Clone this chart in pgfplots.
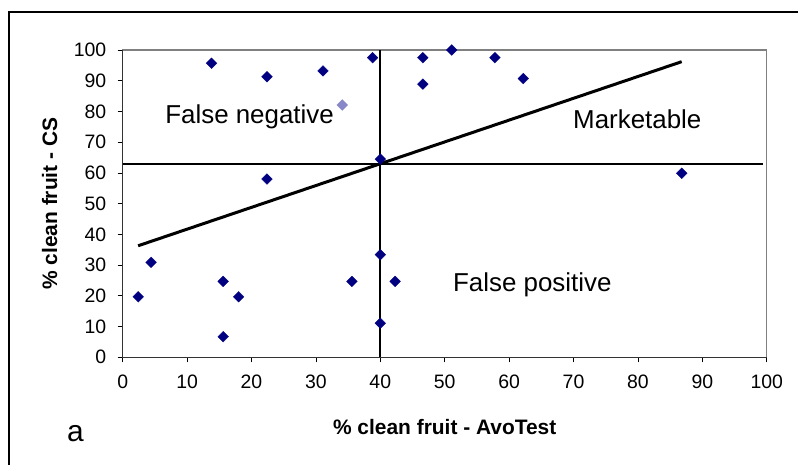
\documentclass[border=0pt]{standalone}
\usepackage{pgfplots}
\pgfplotsset{compat=1.18}
\usepackage{fontspec}
\setmainfont{Liberation Sans}
\definecolor{navy}{RGB}{0,0,128}
\definecolor{lightpt}{RGB}{136,136,200}
\begin{document}
\begin{tikzpicture}
\useasboundingbox (0,0) rectangle (798bp,465bp);
\draw[line width=1.5bp] (9bp,0) -- (9bp,453bp) -- (798bp,453bp);
\node[anchor=base, font=\fontsize{30}{32}\selectfont] at (75.5bp,23.3bp) {a};
\begin{axis}[
  at={(122.7bp,107.7bp)}, anchor=south west,
  scale only axis, width=644bp, height=307.3bp,
  xmin=0, xmax=100, ymin=0, ymax=100,
  xtick={0,10,...,100}, ytick={0,10,...,100},
  tick align=outside, xtick pos=bottom, ytick pos=left,
  major tick length=5bp,
  tick style={black, line width=0.8bp},
  axis line style={draw=gray, line width=1.2bp},
  ticklabel style={font=\fontsize{19.5}{21}\selectfont},
  xticklabel style={yshift=-9bp},
  yticklabel style={xshift=-8bp},
  /pgf/number format/assume math mode=true,
  every axis x label/.style={at={(axis description cs:0.5,0)}, anchor=base, yshift=-77bp},
  every axis y label/.style={at={(axis description cs:-0.102,0.5)}, anchor=base, rotate=90},
  label style={font=\bfseries\fontsize{21}{24}\selectfont},
  xlabel={\% clean fruit - AvoTest},
  ylabel={\% clean fruit - CS},
  clip=false,
]
\draw[black!80, line width=1.2bp] (rel axis cs:0,1) -- (rel axis cs:0,0) -- (rel axis cs:1,0);
\addplot[only marks, mark=square*, mark size=3.8bp, mark options={rotate=45, fill=navy, draw=navy, line width=0.3bp}] table {
x y
13.8 95.7
22.4 91.3
31.1 93.2
38.8 97.5
46.6 97.5
46.6 88.9
51.1 100
57.8 97.5
62.2 90.7
40.0 64.5
22.4 58.0
86.8 59.9
4.4 30.9
2.4 19.7
15.6 24.7
18.0 19.7
15.6 6.7
35.6 24.7
40.0 33.4
42.3 24.7
40.0 11.1
};
\addplot[only marks, mark=square*, mark size=3.8bp, mark options={rotate=45, fill=lightpt, draw=lightpt, line width=0.3bp}] table {
x y
34.1 82.1
};
\addplot[black, line width=1.4bp] coordinates {(0,62.9) (99.4,62.9)};
\addplot[black, line width=1.8bp] coordinates {(40,0) (40,100)};
\addplot[black, line width=3bp] coordinates {(2.4,36.3) (86.8,96.2)};
\node[anchor=base, font=\fontsize{26}{28}\selectfont] at (axis cs:19.7,76.1) {False negative};
\node[anchor=base, font=\fontsize{26}{28}\selectfont] at (axis cs:79.9,74.5) {Marketable};
\node[anchor=base, font=\fontsize{26}{28}\selectfont] at (axis cs:63.6,21.3) {False positive};
\end{axis}
\end{tikzpicture}
\end{document}
